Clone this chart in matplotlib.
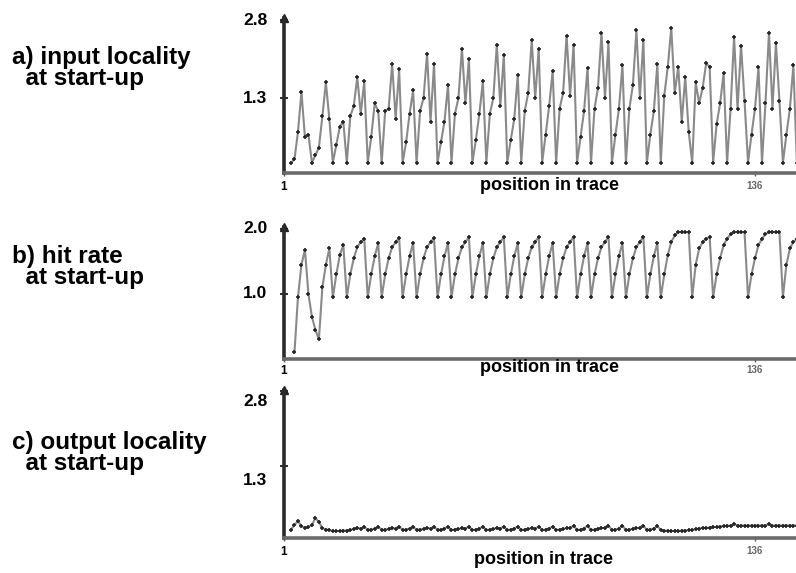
"""
Start-up locality plots
=======================

Three stacked trace panels: input locality, hit rate, output locality.
"""

import matplotlib.pyplot as plt
import numpy as np

plt.rcParams["font.family"] = ["Liberation Sans", "DejaVu Sans"]
plt.rcParams["font.weight"] = "bold"

# =============================================================================
# DATA
# =============================================================================

trace_start = 1
trace_end = 147.75
x_tick_values = [1, 136]
x_tick_labels = ["1", "136"]

input_pos = np.arange(3, 149)
input_locality = [
    0.06, 0.12, 0.65, 1.42, 0.55, 0.60, 0.06, 0.20, 0.35, 0.95,
    1.60, 0.90, 0.06, 0.40, 0.75, 0.85, 0.06, 0.95, 1.15, 1.70,
    1.00, 1.62, 0.06, 0.55, 1.20, 1.05, 0.06, 1.05, 1.10, 1.95,
    0.90, 1.85, 0.06, 0.45, 1.00, 1.45, 0.06, 1.05, 1.30, 2.15,
    0.85, 1.95, 0.06, 0.45, 0.85, 1.55, 0.06, 1.00, 1.30, 2.25,
    1.20, 2.05, 0.06, 0.50, 1.00, 1.62, 0.06, 1.00, 1.30, 2.33,
    1.15, 2.12, 0.06, 0.50, 0.90, 1.74, 0.06, 1.05, 1.40, 2.42,
    1.30, 2.25, 0.06, 0.60, 1.15, 1.82, 0.06, 1.10, 1.40, 2.50,
    1.35, 2.32, 0.06, 0.55, 1.05, 1.88, 0.06, 1.10, 1.50, 2.55,
    1.30, 2.37, 0.06, 0.60, 1.10, 1.93, 0.06, 1.10, 1.55, 2.60,
    1.30, 2.42, 0.06, 0.60, 1.05, 1.95, 0.06, 1.35, 1.90, 2.65,
    1.40, 1.90, 0.85, 1.70, 0.65, 0.06, 1.60, 1.20, 1.50, 1.97,
    1.90, 0.06, 0.80, 1.20, 1.78, 0.06, 1.10, 2.47, 1.10, 2.31,
    1.25, 0.06, 0.60, 1.10, 1.89, 0.06, 1.20, 2.56, 1.10, 2.35,
    1.25, 0.06, 0.60, 1.10, 1.93, 0.06,
]

hit_pos = np.arange(4, 149)
hit_rate = [
    0.10, 0.95, 1.45, 1.68, 1.00, 0.65, 0.45, 0.30, 1.10, 1.45,
    1.70, 0.95, 1.30, 1.60, 1.75, 0.95, 1.30, 1.55, 1.72, 1.80,
    1.85, 0.95, 1.30, 1.58, 1.78, 0.95, 1.30, 1.55, 1.72, 1.80,
    1.86, 0.95, 1.30, 1.58, 1.78, 0.95, 1.30, 1.55, 1.72, 1.80,
    1.86, 0.95, 1.30, 1.58, 1.78, 0.95, 1.30, 1.55, 1.72, 1.80,
    1.87, 0.95, 1.30, 1.58, 1.78, 0.95, 1.30, 1.55, 1.72, 1.80,
    1.87, 0.95, 1.30, 1.58, 1.78, 0.95, 1.30, 1.55, 1.72, 1.80,
    1.88, 0.95, 1.30, 1.58, 1.78, 0.95, 1.30, 1.55, 1.72, 1.80,
    1.88, 0.95, 1.30, 1.58, 1.78, 0.95, 1.30, 1.55, 1.72, 1.80,
    1.88, 0.95, 1.30, 1.58, 1.78, 0.95, 1.30, 1.55, 1.72, 1.80,
    1.88, 0.95, 1.30, 1.58, 1.78, 0.95, 1.30, 1.60, 1.80, 1.90,
    1.95, 1.95, 1.95, 1.95, 0.95, 1.45, 1.70, 1.80, 1.85, 1.88,
    0.95, 1.30, 1.55, 1.75, 1.85, 1.92, 1.95, 1.95, 1.95, 1.95,
    0.95, 1.30, 1.55, 1.75, 1.85, 1.92, 1.95, 1.95, 1.95, 1.95,
    0.95, 1.45, 1.70, 1.80, 1.85,
]

output_pos = np.arange(3, 149)
output_locality = [
    0.03, 0.12, 0.20, 0.10, 0.06, 0.08, 0.12, 0.26, 0.18, 0.06,
    0.03, 0.02, 0.00, 0.00, 0.00, 0.01, 0.01, 0.02, 0.04, 0.06,
    0.05, 0.09, 0.02, 0.03, 0.05, 0.09, 0.02, 0.03, 0.04, 0.06,
    0.05, 0.09, 0.02, 0.03, 0.05, 0.09, 0.02, 0.03, 0.04, 0.06,
    0.05, 0.09, 0.02, 0.03, 0.05, 0.09, 0.02, 0.03, 0.04, 0.06,
    0.05, 0.09, 0.02, 0.03, 0.05, 0.09, 0.02, 0.03, 0.04, 0.06,
    0.05, 0.09, 0.02, 0.03, 0.05, 0.09, 0.02, 0.03, 0.04, 0.06,
    0.05, 0.09, 0.02, 0.03, 0.05, 0.09, 0.02, 0.03, 0.04, 0.06,
    0.06, 0.11, 0.02, 0.03, 0.05, 0.11, 0.02, 0.03, 0.04, 0.06,
    0.06, 0.11, 0.02, 0.03, 0.05, 0.11, 0.02, 0.03, 0.04, 0.06,
    0.06, 0.11, 0.02, 0.03, 0.05, 0.10, 0.02, 0.01, 0.00, 0.00,
    0.00, 0.00, 0.01, 0.01, 0.02, 0.02, 0.04, 0.05, 0.06, 0.06,
    0.07, 0.08, 0.08, 0.09, 0.10, 0.10, 0.11, 0.14, 0.11, 0.11,
    0.11, 0.11, 0.11, 0.11, 0.11, 0.11, 0.11, 0.14, 0.11, 0.11,
    0.11, 0.11, 0.11, 0.11, 0.11, 0.11,
]

panel_titles = [
    "a) input locality\n  at start-up",
    "b) hit rate\n  at start-up",
    "c) output locality\n  at start-up",
]
x_axis_label = "position in trace"

input_ticks = [1.3, 2.8]
hit_ticks = [1.0, 2.0]
output_ticks = [1.3, 2.8]

# =============================================================================
# LAYOUT (pixels in a 796 x 573 canvas)
# =============================================================================

FIG_W = 796
FIG_H = 573
DPI = 100
PT = 72 / DPI  # points per pixel

AXIS_X = 284

PANELS = [
    {
        "pos": input_pos, "values": input_locality, "ticks": input_ticks,
        "labels": ["1.3", "2.8"], "label_dy": [0, 0],
        "top": 18, "base": 173, "ylim": (-0.14, 2.84),
        "title_y": 68, "xlabel_dy": 12, "xlabel_x": 77,
        "xtick_pad": 4,
    },
    {
        "pos": hit_pos, "values": hit_rate, "ticks": hit_ticks,
        "labels": ["1.0", "2.0"], "label_dy": [0, 0],
        "top": 227, "base": 359, "ylim": (0.0, 2.03),
        "title_y": 267, "xlabel_dy": 9, "xlabel_x": 77,
        "xtick_pad": 2,
    },
    {
        "pos": output_pos, "values": output_locality, "ticks": output_ticks,
        "labels": ["1.3", "2.8"], "label_dy": [-14, -10],
        "top": 390, "base": 538, "ylim": (-0.14, 2.83),
        "title_y": 453, "xlabel_dy": 22, "xlabel_x": 75.5,
        "xtick_pad": 4,
    },
]


# =============================================================================
# DRAWING
# =============================================================================


def draw_panel(figure, spec, title):
    """
    Draw one trace panel with its side caption.
    """

    rect = [
        AXIS_X / FIG_W,
        1 - spec["base"] / FIG_H,
        1 - AXIS_X / FIG_W,
        (spec["base"] - spec["top"]) / FIG_H,
    ]
    axis = figure.add_axes(rect)

    axis.plot(
        spec["pos"],
        spec["values"],
        color="#8a8a8a",
        linewidth=1.5,
        marker="+",
        markersize=3.5,
        markeredgewidth=1.2,
        markeredgecolor="#262626",
        clip_on=True,
    )

    axis.set_xlim(trace_start, trace_end)
    axis.set_ylim(*spec["ylim"])

    for side in ("top", "right"):
        axis.spines[side].set_visible(False)

    axis.spines["left"].set_linewidth(2.6)
    axis.spines["left"].set_color("#2b2b2b")
    axis.spines["bottom"].set_linewidth(2.6)
    axis.spines["bottom"].set_color("#6a6a6a")

    # arrow head on the value axis
    axis.plot(
        [trace_start],
        [spec["ylim"][1]],
        marker="^",
        markersize=6,
        color="#222222",
        clip_on=False,
    )

    axis.set_yticks(spec["ticks"])
    axis.tick_params(
        axis="y",
        direction="inout",
        length=6,
        width=1.5,
        color="#333333",
        labelleft=False,
    )

    for value, label, dy in zip(spec["ticks"], spec["labels"], spec["label_dy"]):
        axis.annotate(
            label,
            xy=(0, value),
            xycoords=("axes fraction", "data"),
            xytext=(-29 * PT, dy * PT),
            textcoords="offset points",
            ha="center",
            va="center",
            fontsize=12.5,
            fontweight="bold",
        )

    axis.set_xticks(x_tick_values)
    axis.set_xticklabels(x_tick_labels)
    axis.tick_params(
        axis="x",
        direction="out",
        length=2,
        width=1,
        color="#555555",
        pad=spec["xtick_pad"],
    )
    tick_one, tick_last = axis.get_xticklabels()
    tick_one.set_fontsize(8.5)
    tick_one.set_fontweight("bold")
    tick_last.set_fontsize(7)
    tick_last.set_color("#666666")

    axis.annotate(
        x_axis_label,
        xy=(spec["xlabel_x"], 0),
        xycoords=("data", "axes fraction"),
        xytext=(0, -spec["xlabel_dy"] * PT),
        textcoords="offset points",
        ha="center",
        va="center",
        fontsize=13,
        fontweight="bold",
    )

    figure.text(
        12 / FIG_W,
        1 - spec["title_y"] / FIG_H,
        title,
        ha="left",
        va="center",
        multialignment="left",
        linespacing=0.92,
        fontsize=17.5,
        fontweight="bold",
    )

    return axis


def main():
    """
    Build and save the figure.
    """

    figure = plt.figure(figsize=(FIG_W / DPI, FIG_H / DPI), dpi=DPI)
    figure.patch.set_facecolor("white")

    for spec, title in zip(PANELS, panel_titles):
        draw_panel(figure, spec, title)

    figure.savefig("out.png", dpi=DPI, facecolor="white")


if __name__ == "__main__":
    main()
